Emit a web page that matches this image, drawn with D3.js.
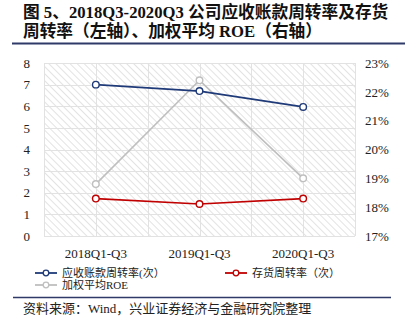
<!DOCTYPE html>
<html>
<head>
<meta charset="utf-8">
<script src="https://cdn.jsdelivr.net/npm/d3@7/dist/d3.min.js"></script>
<style>
  html, body { margin: 0; padding: 0; background: #fff; }
  svg { display: block; }
  text { font-family: "Liberation Serif", "Noto Sans CJK SC", serif; }
</style>
</head>
<body>
<svg id="chart" width="405" height="327"></svg>
<script>
// Period labels on the x axis
const categories = ["2018Q1-Q3", "2019Q1-Q3", "2020Q1-Q3"];
// Left axis: turnover ratios (times)
const receivableTurnover = [7.0, 6.7, 5.97];
const inventoryTurnover = [1.73, 1.48, 1.73];
// Right axis: weighted average ROE (%)
const weightedROE = [18.8, 22.4, 19.0];
// Tick labels
const leftTicks = [0, 1, 2, 3, 4, 5, 6, 7, 8];
const rightTicks = [17, 18, 19, 20, 21, 22, 23];

const svg = d3.select("#chart");
const plot = { left: 44, right: 355, top: 63, bottom: 236 };

// Diagonal hatch fill for the plot area
const defs = svg.append("defs");
const pat = defs.append("pattern")
  .attr("id", "hatch").attr("patternUnits", "userSpaceOnUse")
  .attr("width", 5).attr("height", 5)
  .attr("patternTransform", "rotate(45)");
pat.append("rect").attr("width", 5).attr("height", 5).attr("fill", "#fff");
pat.append("line").attr("x1", 0).attr("y1", 0).attr("x2", 5).attr("y2", 0)
  .attr("stroke", "#dcdcdc").attr("stroke-width", 1.6);

// Title
const title = svg.append("g");
title.append("text").attr("x", 23).attr("y", 18).attr("font-size", 16.7).attr("font-weight", "bold")
  .attr("fill", "#111").text("图 5、2018Q3-2020Q3 公司应收账款周转率及存货");
title.append("text").attr("x", 23).attr("y", 37).attr("font-size", 16.7).attr("font-weight", "bold")
  .attr("fill", "#111").text("周转率（左轴）、加权平均 ROE（右轴）");
svg.append("line").attr("x1", 12).attr("x2", 405).attr("y1", 43.5).attr("y2", 43.5)
  .attr("stroke", "#2f3a68").attr("stroke-width", 2);

// Scales
const x = d3.scaleBand().domain(categories).range([plot.left, plot.right]);
const yL = d3.scaleLinear().domain([0, 8]).range([plot.bottom, plot.top]);
const yR = d3.scaleLinear().domain([17, 23]).range([plot.bottom, plot.top]);

svg.append("rect").attr("x", plot.left).attr("y", plot.top)
  .attr("width", plot.right - plot.left).attr("height", plot.bottom - plot.top)
  .attr("fill", "url(#hatch)");

// Gridlines
const grid = svg.append("g").attr("stroke", "#e2e2e2").attr("stroke-width", 1);
leftTicks.forEach(t => {
  grid.append("line").attr("x1", plot.left).attr("x2", plot.right)
    .attr("y1", Math.round(yL(t)) + 0.5).attr("y2", Math.round(yL(t)) + 0.5);
});
const vlines = [];
categories.forEach(c => { vlines.push(x(c)); vlines.push(x(c) + x.bandwidth() / 2); });
vlines.push(plot.right);
vlines.forEach(v => {
  grid.append("line").attr("x1", Math.round(v) + 0.5).attr("x2", Math.round(v) + 0.5)
    .attr("y1", plot.top).attr("y2", plot.bottom);
});

// Axes (labels only)
const axisL = svg.append("g").attr("transform", `translate(${plot.left - 14},0)`)
  .call(d3.axisLeft(yL).tickValues(leftTicks).tickSize(0).tickPadding(0));
const axisR = svg.append("g").attr("transform", `translate(${plot.right + 10},0)`)
  .call(d3.axisRight(yR).tickValues(rightTicks).tickFormat(d => d + "%").tickSize(0).tickPadding(0));
const axisB = svg.append("g").attr("transform", `translate(0,${plot.bottom + 10})`)
  .call(d3.axisBottom(x).tickSize(0).tickPadding(0));
[axisL, axisR, axisB].forEach(a => {
  a.select(".domain").remove();
  a.selectAll("text").attr("font-family", "Liberation Serif, serif").attr("font-size", 13).attr("fill", "#222");
});
axisB.selectAll("text").attr("dy", "0.9em");

// Series
const cx = c => x(c) + x.bandwidth() / 2;
const series = [
  { values: weightedROE, scale: yR, color: "#bfbfbf" },
  { values: inventoryTurnover, scale: yL, color: "#c00000" },
  { values: receivableTurnover, scale: yL, color: "#1f3a78" }
];
series.forEach(s => {
  const line = d3.line().x((d, i) => cx(categories[i])).y(d => s.scale(d));
  svg.append("path").datum(s.values).attr("d", line)
    .attr("fill", "none").attr("stroke", s.color).attr("stroke-width", 1.6);
  svg.selectAll(null).data(s.values).enter().append("circle")
    .attr("cx", (d, i) => cx(categories[i])).attr("cy", d => s.scale(d)).attr("r", 3.3)
    .attr("fill", "#fff").attr("stroke", s.color).attr("stroke-width", 1.4);
});

// Legend
const legend = [
  { label: "应收账款周转率(次）", color: "#1f3a78", x: 35, y: 273 },
  { label: "存货周转率（次）", color: "#c00000", x: 225, y: 273 },
  { label: "加权平均ROE", color: "#bfbfbf", x: 35, y: 285 }
];
legend.forEach(l => {
  const g = svg.append("g");
  g.append("line").attr("x1", l.x).attr("x2", l.x + 22).attr("y1", l.y).attr("y2", l.y)
    .attr("stroke", l.color).attr("stroke-width", 1.8);
  g.append("circle").attr("cx", l.x + 11).attr("cy", l.y).attr("r", 2.8)
    .attr("fill", "#fff").attr("stroke", l.color).attr("stroke-width", 1.3);
  g.append("text").attr("x", l.x + 27).attr("y", l.y).attr("dy", "0.35em")
    .attr("font-size", 11).attr("fill", "#222").text(l.label);
});

// Source note
svg.append("line").attr("x1", 13).attr("x2", 391).attr("y1", 297.5).attr("y2", 297.5)
  .attr("stroke", "#2f3a68").attr("stroke-width", 1.6);
svg.append("text").attr("x", 23).attr("y", 313).attr("font-size", 13).attr("fill", "#222")
  .text("资料来源：Wind，兴业证券经济与金融研究院整理");
</script>
</body>
</html>
